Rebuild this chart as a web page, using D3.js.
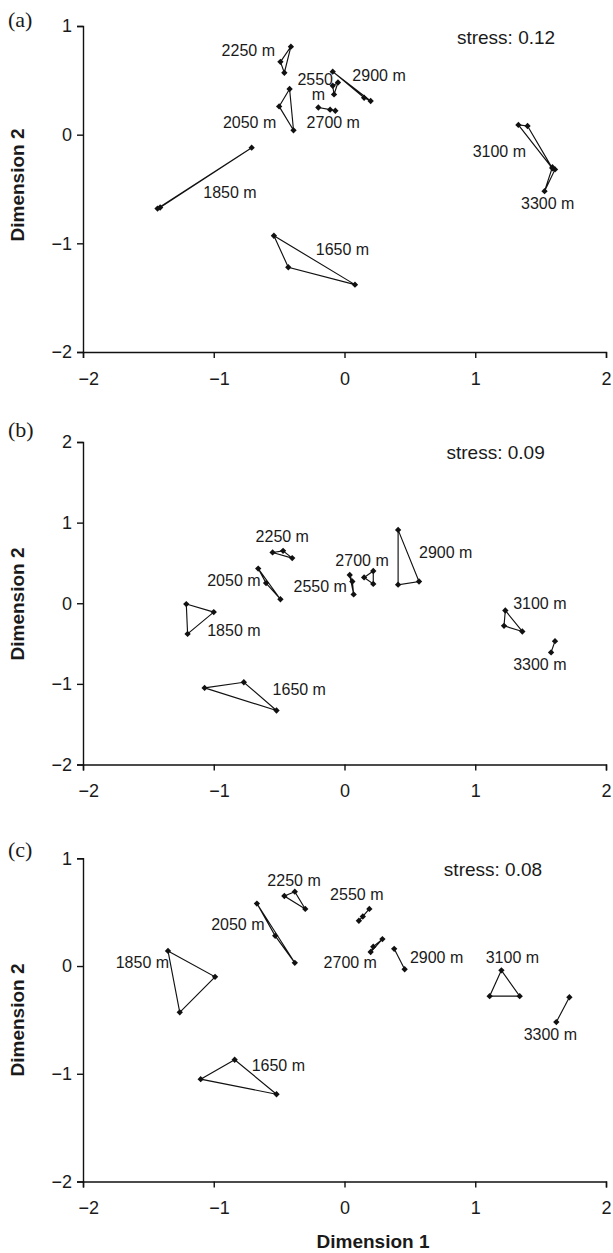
<!DOCTYPE html>
<html lang="en">
<head>
<meta charset="UTF-8">
<title>MDS ordination</title>
<style>
    body { margin: 0; background: #fff; }
    text { font-family: "Liberation Sans", Arial, sans-serif; fill: #1a1a1a; }
    .axis path, .axis line { stroke: #111; stroke-width: 1.4px; }
    .axis text { font-size: 18px; }
    .grp { fill: none; stroke: #111; stroke-width: 1.15px; }
    .pt { fill: #111; }
    .lbl { font-size: 16px; }
    .stress { font-size: 19px; }
    .title { font-size: 19px; font-weight: bold; }
    .tag { font-family: "Liberation Serif", "Times New Roman", serif; font-size: 22px; }
</style>
</head>
<body>
<script src="https://d3js.org/d3.v7.min.js"></script>
<script>
    // axis ticks
    const xTicks = [-2, -1, 0, 1, 2];
    const yTicksA = [-2, -1, 0, 1];
    const yTicksB = [-2, -1, 0, 1, 2];
    const yTicksC = [-2, -1, 0, 1];

    // panel (a): points per altitude (Dimension 1, Dimension 2)
    const groupsA = [
        { name: '1650 m', pts: [[-0.54, -0.93], [-0.43, -1.22], [0.08, -1.38]] },
        { name: '1850 m', pts: [[-0.71, -0.12], [-1.41, -0.67], [-1.43, -0.68]] },
        { name: '2050 m', pts: [[-0.42, 0.42], [-0.50, 0.26], [-0.39, 0.04]] },
        { name: '2250 m', pts: [[-0.41, 0.81], [-0.49, 0.67], [-0.46, 0.57]] },
        { name: '2550 m', pts: [[-0.05, 0.48], [-0.09, 0.45], [-0.08, 0.37]] },
        { name: '2700 m', pts: [[-0.20, 0.25], [-0.11, 0.23], [-0.07, 0.22]] },
        { name: '2900 m', pts: [[-0.09, 0.58], [0.15, 0.34], [0.20, 0.31]] },
        { name: '3100 m', pts: [[1.33, 0.09], [1.40, 0.08], [1.59, -0.31]] },
        { name: '3300 m', pts: [[1.61, -0.32], [1.59, -0.30], [1.53, -0.52]] }
    ];
    // panel (b)
    const groupsB = [
        { name: '1650 m', pts: [[-1.07, -1.05], [-0.77, -0.98], [-0.52, -1.33]] },
        { name: '1850 m', pts: [[-1.21, -0.01], [-1.00, -0.11], [-1.20, -0.38]] },
        { name: '2050 m', pts: [[-0.66, 0.43], [-0.60, 0.25], [-0.49, 0.05]] },
        { name: '2250 m', pts: [[-0.55, 0.63], [-0.47, 0.65], [-0.40, 0.56]] },
        { name: '2550 m', pts: [[0.04, 0.35], [0.06, 0.27], [0.07, 0.11]] },
        { name: '2700 m', pts: [[0.22, 0.40], [0.15, 0.32], [0.22, 0.24]] },
        { name: '2900 m', pts: [[0.41, 0.91], [0.41, 0.23], [0.57, 0.27]] },
        { name: '3100 m', pts: [[1.23, -0.09], [1.22, -0.28], [1.36, -0.35]] },
        { name: '3300 m', pts: [[1.61, -0.47], [1.58, -0.61]] }
    ];
    // panel (c)
    const groupsC = [
        { name: '1650 m', pts: [[-0.84, -0.87], [-1.10, -1.05], [-0.52, -1.19]] },
        { name: '1850 m', pts: [[-1.35, 0.14], [-0.99, -0.10], [-1.26, -0.43]] },
        { name: '2050 m', pts: [[-0.67, 0.58], [-0.53, 0.28], [-0.38, 0.03]] },
        { name: '2250 m', pts: [[-0.46, 0.65], [-0.38, 0.69], [-0.30, 0.53]] },
        { name: '2550 m', pts: [[0.11, 0.42], [0.14, 0.46], [0.19, 0.53]] },
        { name: '2700 m', pts: [[0.20, 0.13], [0.22, 0.18], [0.29, 0.25]] },
        { name: '2900 m', pts: [[0.38, 0.16], [0.46, -0.03]] },
        { name: '3100 m', pts: [[1.20, -0.04], [1.11, -0.28], [1.34, -0.28]] },
        { name: '3300 m', pts: [[1.72, -0.29], [1.62, -0.52]] }
    ];

    // text labels, anchored at their left/baseline in data units
    const labelsA = [
        ['2250 m', -0.94, 0.72], ['2050 m', -0.93, 0.06], ['1850 m', -1.08, -0.58],
        ['2550', -0.36, 0.46], ['m', -0.25, 0.32], ['2900 m', 0.06, 0.49],
        ['2700 m', -0.29, 0.06], ['3100 m', 0.98, -0.21], ['3300 m', 1.35, -0.68],
        ['1650 m', -0.22, -1.11], ['stress: 0.12', 0.86, 0.83]
    ];
    const labelsB = [
        ['2250 m', -0.68, 0.76], ['2050 m', -1.05, 0.21], ['2550 m', -0.39, 0.14],
        ['2700 m', -0.07, 0.46], ['2900 m', 0.57, 0.56], ['1850 m', -1.05, -0.41],
        ['1650 m', -0.55, -1.14], ['3100 m', 1.29, -0.07], ['3300 m', 1.29, -0.83],
        ['stress: 0.09', 0.78, 1.79]
    ];
    const labelsC = [
        ['2250 m', -0.59, 0.74], ['2050 m', -1.02, 0.33], ['1850 m', -1.75, -0.02],
        ['2550 m', -0.11, 0.61], ['2700 m', -0.16, -0.02], ['2900 m', 0.50, 0.03],
        ['3100 m', 1.08, 0.03], ['3300 m', 1.37, -0.69], ['1650 m', -0.71, -0.97],
        ['stress: 0.08', 0.76, 0.84]
    ];

    const svg = d3.select('body').append('svg')
        .attr('width', 613)
        .attr('height', 1253);

    const x = d3.scaleLinear().domain([-2, 2]).range([83, 606]);
    const fmt = d => d3.format('d')(d);

    const panels = [
        { tag: '(a)', groups: groupsA, labels: labelsA, yTicks: yTicksA, top: 26, bottom: 352, tagY: 27, titleY: 185 },
        { tag: '(b)', groups: groupsB, labels: labelsB, yTicks: yTicksB, top: 442, bottom: 764.5, tagY: 437, titleY: 604 },
        { tag: '(c)', groups: groupsC, labels: labelsC, yTicks: yTicksC, top: 858.3, bottom: 1181.5, tagY: 857, titleY: 1020 }
    ];

    const marker = d3.symbol().type(d3.symbolSquare).size(20);
    const line = d3.line().x(d => x(d[0]));

    panels.forEach(p => {
        const y = d3.scaleLinear()
            .domain(d3.extent(p.yTicks))
            .range([p.bottom, p.top]);
        line.y(d => y(d[1]));
        const g = svg.append('g');

        // axes
        const gx = g.append('g')
            .attr('class', 'axis')
            .attr('transform', `translate(0,${p.bottom})`)
            .call(d3.axisBottom(x).tickValues(xTicks).tickSize(6).tickPadding(14).tickFormat(fmt));
        gx.selectAll('text').attr('dx', d => d < 0 ? '0.29em' : 0);

        g.append('g')
            .attr('class', 'axis')
            .attr('transform', `translate(${x(-2)},0)`)
            .call(d3.axisLeft(y).tickValues(p.yTicks).tickSize(6).tickPadding(5).tickFormat(fmt));
        g.selectAll('.axis').attr('font-family', null).attr('font-size', null);

        // polygons linking the replicates of each altitude
        g.selectAll('.grp')
            .data(p.groups)
            .enter().append('path')
            .attr('class', 'grp')
            .attr('d', d => line(d.pts) + (d.pts.length > 2 ? 'Z' : ''));

        g.selectAll('.pt')
            .data(p.groups.flatMap(d => d.pts))
            .enter().append('path')
            .attr('class', 'pt')
            .attr('d', marker)
            .attr('transform', d => `translate(${x(d[0])},${y(d[1])}) rotate(45)`);

        g.selectAll('.lbl')
            .data(p.labels)
            .enter().append('text')
            .attr('class', d => d[0].startsWith('stress') ? 'stress' : 'lbl')
            .attr('x', d => x(d[1]))
            .attr('y', d => y(d[2]))
            .text(d => d[0]);

        g.append('text')
            .attr('class', 'tag')
            .attr('x', 8)
            .attr('y', p.tagY)
            .text(p.tag);

        g.append('text')
            .attr('class', 'title')
            .attr('text-anchor', 'middle')
            .attr('transform', `translate(24,${p.titleY}) rotate(-90)`)
            .text('Dimension 2');
    });

    svg.append('text')
        .attr('class', 'title')
        .attr('text-anchor', 'middle')
        .attr('x', 373)
        .attr('y', 1248)
        .text('Dimension 1');
</script>
</body>
</html>
